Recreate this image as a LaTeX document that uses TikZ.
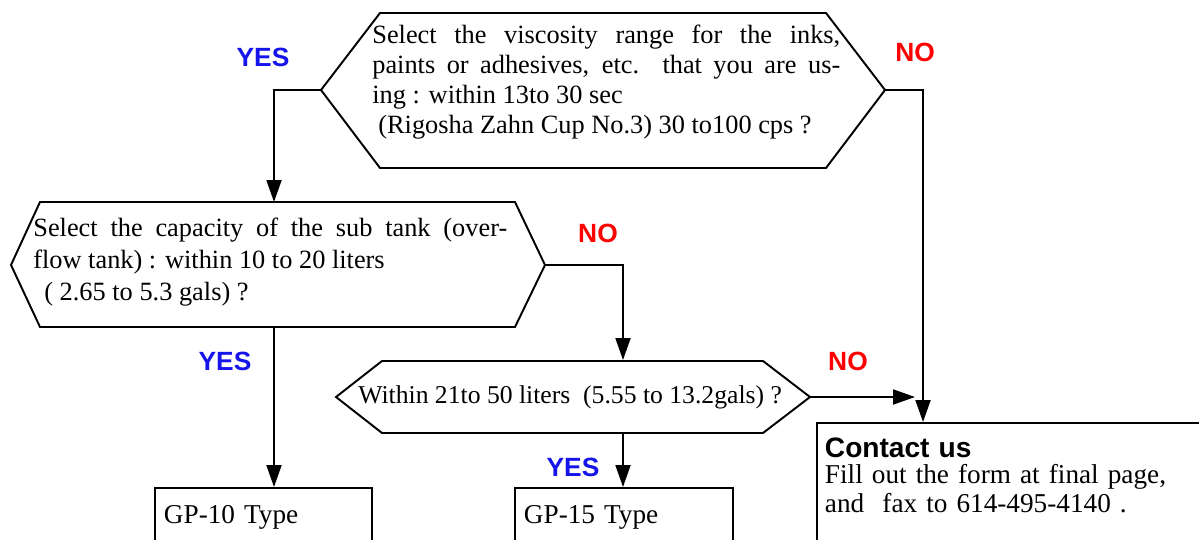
\documentclass[tikz,border=0pt]{standalone}
\usepackage{fontspec}
\setmainfont{Liberation Serif}
\setsansfont{Liberation Sans}
\usetikzlibrary{arrows.meta}
\usetikzlibrary{calc}
\usetikzlibrary{positioning}

\definecolor{yesblue}{RGB}{20,20,235}
\definecolor{nored}{RGB}{255,0,0}

\tikzset{
	txt/.style={inner sep=0pt, align=left, font=\fontsize{15}{17}\selectfont},
	answer/.style={inner sep=0pt, font=\sffamily\bfseries\fontsize{15}{18}\selectfont},
	yes/.style={answer, text=yesblue},
	no/.style={answer, text=nored},
	hexa/.style={line width=1.1pt, line join=miter},
	flow/.style={line width=1.1pt, -{Triangle[length=0.44cm, width=0.3cm]}},
	typebox/.style={draw, line width=1.1pt, anchor=north west, align=left,
		font=\fontsize{15.5}{17}\selectfont, inner xsep=0.18cm, inner ysep=0.36cm,
		text height=0.35cm, text depth=0.3cm}
}

\begin{document}
\begin{tikzpicture}[x=0.02cm, y=-0.02cm]
	
	\clip (0, 0) rectangle (1199, 540);
	
	% viscosity question
	\coordinate (visc_w) at (321, 90);
	\coordinate (visc_e) at (885, 90);
	\draw [hexa] (visc_w) -- (380, 13) -- (826, 13) -- (visc_e) -- (826, 168) -- (380, 168) -- cycle;
	\node [txt, anchor=west] at (372, 82) (visc){\makebox[9.36cm][s]{Select the viscosity range for the inks,}\\
		\makebox[9.36cm][s]{paints or adhesives, etc. that you are us-}\\
		ing : within 13to 30 sec\\
		\hspace{0.12cm}(Rigosha Zahn Cup No.3) 30 to100 cps ?};
	
	% sub tank capacity question
	\coordinate (cap_w) at (11, 265);
	\coordinate (cap_e) at (545, 265);
	\coordinate (cap_n) at (274, 202);
	\coordinate (cap_s) at (274, 327);
	\draw [hexa] (cap_w) -- (40, 202) -- (515, 202) -- (cap_e) -- (515, 327) -- (40, 327) -- cycle;
	\node [txt, anchor=west, font=\fontsize{15}{18.4}\selectfont] at (33, 262) (cap){\makebox[9.48cm][s]{Select the capacity of the sub tank (over-}\\
		flow tank) : within 10 to 20 liters\\
		\hspace{0.22cm}( 2.65 to 5.3 gals) ?};
	
	% 21 to 50 liters question
	\coordinate (within_w) at (336, 397);
	\coordinate (within_e) at (810, 397);
	\coordinate (within_n) at (623, 360);
	\coordinate (within_s) at (623, 433);
	\draw [hexa] (within_w) -- (382, 361) -- (763, 361) -- (within_e) -- (763, 433) -- (382, 433) -- cycle;
	\node [txt, anchor=west, font=\fontsize{14.6}{17}\selectfont] at (358, 397) (within){Within 21to 50 liters\ \ (5.55 to 13.2gals) ?};
	
	% results
	\node [typebox, text width=3.98cm] at (154, 487) (gp10){GP-10 Type};
	\node [typebox, text width=4.0cm] at (514, 487) (gp15){GP-15 Type};
	\node [typebox, inner xsep=0.16cm, inner ysep=0.3cm, text height=, text depth=, text width=8.6cm] at (816, 422) (contact){{\sffamily\bfseries\fontsize{16}{18}\selectfont Contact us}\\[-2pt]
		Fill out the form at final page,\\[-0.5pt]
		and\ \ fax to 614-495-4140 .\rule[-1.2cm]{0pt}{0pt}};
	\coordinate (contact_in) at (923, 422);
	\coordinate (contact_side) at (915, 397);
	
	% connectors
	\draw [flow] (visc_w) -| (cap_n);
	\draw [flow] (visc_e) -| (contact_in);
	\draw [flow] (cap_e) -| (within_n);
	\draw [flow] (cap_s) -- (cap_s |- gp10.north);
	\draw [flow] (within_e) -- (contact_side);
	\draw [flow] (within_s) -- (within_s |- gp15.north);
	
	% answers
	\node [yes] at (263, 57) (yes1){YES};
	\node [no] at (915, 52) (no1){NO};
	\node [no] at (598, 233) (no2){NO};
	\node [yes] at (225, 361) (yes2){YES};
	\node [no] at (848, 361) (no3){NO};
	\node [yes] at (573, 467) (yes3){YES};
	
\end{tikzpicture}
\end{document}
